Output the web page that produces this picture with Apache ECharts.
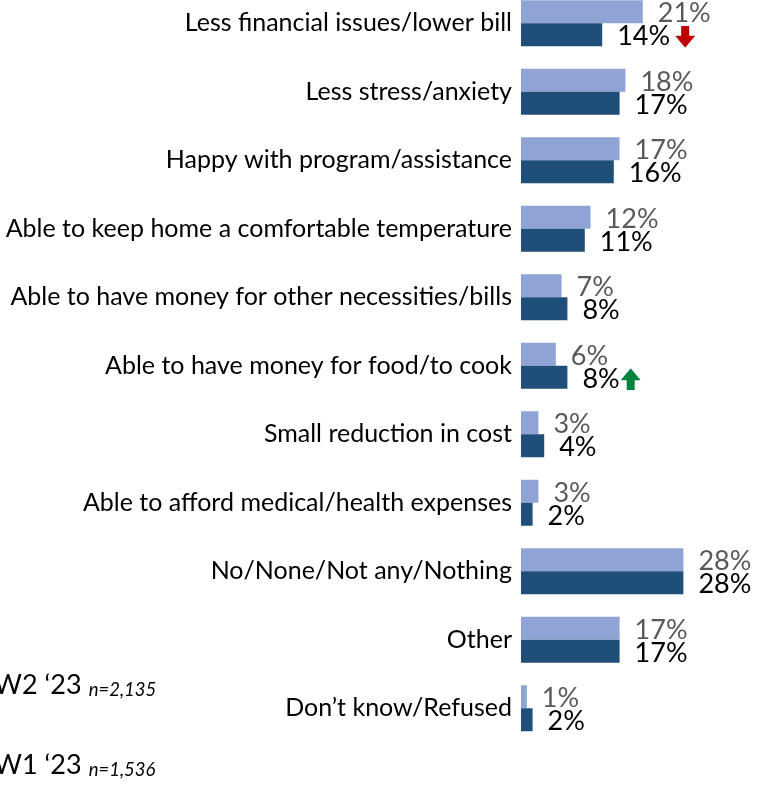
<!DOCTYPE html>
<html>
<head>
<meta charset="utf-8">
<script src="https://cdn.jsdelivr.net/npm/echarts@6/dist/echarts.min.js"></script>
<style>
  html, body { margin: 0; padding: 0; background: #fff; }
  #chart { width: 757px; height: 800px; }
</style>
</head>
<body>
<div id="chart"></div>
<script>
// Reasons given for the benefit of the program, two survey waves
const categories = [
  'Less financial issues/lower bill',
  'Less stress/anxiety',
  'Happy with program/assistance',
  'Able to keep home a comfortable temperature',
  'Able to have money for other necessities/bills',
  'Able to have money for food/to cook',
  'Small reduction in cost',
  'Able to afford medical/health expenses',
  'No/None/Not any/Nothing',
  'Other',
  'Don\u2019t know/Refused'
];
const wave1Values = [21, 18, 17, 12, 7, 6, 3, 3, 28, 17, 1];
const wave2Values = [14, 17, 16, 11, 8, 8, 4, 2, 28, 17, 2];
// Significant change of wave 2 vs wave 1: -1 lower, 1 higher, 0 none
const wave2Change = [-1, 0, 0, 0, 0, 1, 0, 0, 0, 0, 0];
const seriesNames = ['W2 \u201823', 'W1 \u201823'];
const sampleSizes = ['n=2,135', 'n=1,536'];

const FONT = 'Lato, "Open Sans", sans-serif';
const LIGHT = '#8FA3D5';
const DARK = '#1F4E79';

function arrowSvg(dir, color) {
  const pts = dir < 0
    ? '6,0 14,0 14,10 20,10 10,22 0,10 6,10'
    : '10,0 20,12 14,12 14,22 6,22 6,12 0,12';
  const svg = '<svg xmlns="http://www.w3.org/2000/svg" width="20" height="22" viewBox="0 0 20 22">' +
    '<polygon points="' + pts + '" fill="' + color + '"/></svg>';
  return 'data:image/svg+xml;charset=utf-8,' + encodeURIComponent(svg);
}

const labelRich = {
  v: { fontFamily: FONT, fontSize: 27, color: '#000' },
  dn: { width: 20, height: 22, backgroundColor: { image: arrowSvg(-1, '#C00000') } },
  up: { width: 20, height: 22, backgroundColor: { image: arrowSvg(1, '#00843D') } },
  sp5: { width: 5 },
  sp1: { width: 1 }
};

const wave2Data = wave2Values.map((v, i) => {
  const c = wave2Change[i];
  if (c === 0) return v;
  const tag = c < 0 ? '{sp5|}{dn|}' : '{sp1|}{up|}';
  return { value: v, label: { formatter: '{v|' + v + '%}' + tag } };
});

const chart = echarts.init(document.getElementById('chart'), null, { renderer: 'canvas' });
chart.setOption({
  animation: false,
  backgroundColor: '#fff',
  grid: { left: 521, top: -11, width: 232, height: 753.5, containLabel: false, outerBoundsMode: 'none' },
  xAxis: {
    type: 'value', min: 0, max: 40, show: false
  },
  yAxis: {
    type: 'category', data: categories, inverse: true,
    axisLine: { show: false }, axisTick: { show: false },
    axisLabel: { fontFamily: FONT, fontSize: 25, color: '#000', margin: 9 }
  },
  legend: {
    orient: 'vertical', left: -36, top: 667, itemGap: 52,
    itemWidth: 20, itemHeight: 14, selectedMode: false,
    data: seriesNames,
    formatter: name => '{a|' + name + '}{g|}{b|' + sampleSizes[seriesNames.indexOf(name)] + '}',
    textStyle: {
      rich: {
        a: { fontFamily: FONT, fontSize: 27, color: '#000' },
        g: { width: 7 },
        b: { fontFamily: FONT, fontSize: 18.5, fontStyle: 'italic', color: '#000', padding: [10, 0, 0, 0] }
      }
    }
  },
  series: [
    {
      name: seriesNames[1], type: 'bar', data: wave1Values,
      barWidth: 23, barGap: '0%',
      itemStyle: { color: LIGHT },
      label: { show: true, position: 'right', distance: 15, offset: [0, 2], formatter: '{c}%',
        fontFamily: FONT, fontSize: 27, color: '#595959' }
    },
    {
      name: seriesNames[0], type: 'bar', data: wave2Data,
      barWidth: 23, barGap: '0%',
      itemStyle: { color: DARK },
      label: { show: true, position: 'right', distance: 15, offset: [0, 2], formatter: '{v|{c}%}',
        fontFamily: FONT, fontSize: 27, color: '#000', rich: labelRich }
    }
  ]
});
</script>
</body>
</html>
